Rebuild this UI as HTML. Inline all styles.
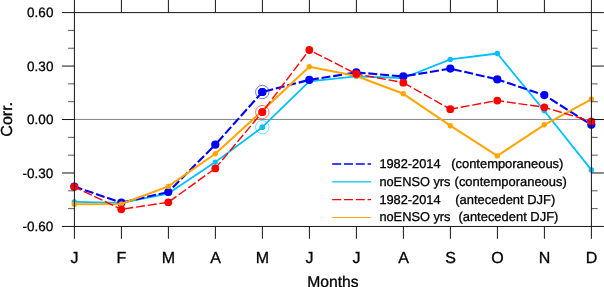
<!DOCTYPE html><html><head><meta charset="utf-8"><style>html,body{margin:0;padding:0;background:#fff}svg{display:block;will-change:transform}text{font-family:"Liberation Sans",sans-serif;fill:#000;stroke:#000;stroke-width:0.3px;text-rendering:geometricPrecision}</style></head><body>
<svg width="604" height="287" viewBox="0 0 604 287">
<rect width="604" height="287" fill="#fff"/>
<line x1="74.4" y1="119.45" x2="591.4" y2="119.45" stroke="#444" stroke-width="0.65"/>
<polyline points="74.3,201.9 121.3,202.8 168.3,193.5 215.3,162.1 262.3,127.2 309.3,81.3 356.3,76.3 403.3,78.0 450.3,59.4 497.3,53.5 544.3,110.8 591.3,169.9" fill="none" stroke="#00bfff" stroke-width="1.8" stroke-linejoin="round"/><circle cx="74.3" cy="201.9" r="2.7" fill="#00bfff"/><circle cx="121.3" cy="202.8" r="2.7" fill="#00bfff"/><circle cx="168.3" cy="193.5" r="2.7" fill="#00bfff"/><circle cx="215.3" cy="162.1" r="2.7" fill="#00bfff"/><circle cx="262.3" cy="127.2" r="2.7" fill="#00bfff"/><circle cx="309.3" cy="81.3" r="2.7" fill="#00bfff"/><circle cx="356.3" cy="76.3" r="2.7" fill="#00bfff"/><circle cx="403.3" cy="78.0" r="2.7" fill="#00bfff"/><circle cx="450.3" cy="59.4" r="2.7" fill="#00bfff"/><circle cx="497.3" cy="53.5" r="2.7" fill="#00bfff"/><circle cx="544.3" cy="110.8" r="2.7" fill="#00bfff"/><circle cx="591.3" cy="169.9" r="2.7" fill="#00bfff"/>
<path d="M74.30,186.50L82.22,189.23M84.87,190.14L93.38,193.08M96.02,193.99L104.53,196.92M107.18,197.83L115.69,200.77M118.34,201.68L121.30,202.70M121.30,202.70L121.42,202.67M124.15,202.05L132.92,200.05M135.65,199.43L144.43,197.43M147.16,196.81L155.93,194.82M158.67,194.19L167.44,192.20M168.30,192.00L170.86,189.42M172.83,187.44L179.18,181.05M181.15,179.07L187.50,172.68M189.47,170.70L195.81,164.31M197.79,162.32L204.13,155.94M206.10,153.95L212.45,147.57M214.42,145.58L215.30,144.70M215.30,144.70L215.46,144.52M217.32,142.43L223.31,135.71M225.18,133.62L231.17,126.91M233.03,124.82L239.02,118.10M240.89,116.01L246.88,109.29M248.74,107.20L254.73,100.49M256.59,98.40L262.30,92.00M264.40,91.46L273.12,89.22M275.83,88.52L284.54,86.27M287.26,85.58L295.97,83.33M298.68,82.63L307.40,80.39M309.88,79.81L318.76,78.39M321.53,77.95L330.42,76.53M333.18,76.09L342.07,74.67M344.84,74.23L353.72,72.81M356.58,72.42L365.55,73.19M368.34,73.42L377.31,74.19M380.09,74.43L389.06,75.19M391.85,75.43L400.82,76.19M403.30,76.40L403.99,76.29M406.75,75.83L415.63,74.35M418.39,73.90L427.27,72.42M430.03,71.96L438.91,70.49M441.67,70.03L450.30,68.60M452.76,69.17L461.54,71.18M464.26,71.81L473.04,73.82M475.76,74.45L484.54,76.47M487.26,77.09L496.04,79.11M497.30,79.40L504.38,81.77M507.04,82.65L515.57,85.50M518.23,86.39L526.76,89.24M529.42,90.13L537.96,92.98M540.61,93.87L544.30,95.10M544.30,95.10L547.64,97.21M550.01,98.71L557.62,103.51M559.98,105.01L567.59,109.82M569.96,111.31L577.57,116.12M579.93,117.62L587.54,122.43M589.91,123.92L591.30,124.80" fill="none" stroke="#0000ff" stroke-width="2.1"/><circle cx="74.3" cy="186.5" r="4.1" fill="#0000ff"/><circle cx="121.3" cy="202.7" r="4.1" fill="#0000ff"/><circle cx="168.3" cy="192.0" r="4.1" fill="#0000ff"/><circle cx="215.3" cy="144.7" r="4.1" fill="#0000ff"/><circle cx="262.3" cy="92.0" r="4.1" fill="#0000ff"/><circle cx="309.3" cy="79.9" r="4.1" fill="#0000ff"/><circle cx="356.3" cy="72.4" r="4.1" fill="#0000ff"/><circle cx="403.3" cy="76.4" r="4.1" fill="#0000ff"/><circle cx="450.3" cy="68.6" r="4.1" fill="#0000ff"/><circle cx="497.3" cy="79.4" r="4.1" fill="#0000ff"/><circle cx="544.3" cy="95.1" r="4.1" fill="#0000ff"/><circle cx="591.3" cy="124.8" r="4.1" fill="#0000ff"/>
<polyline points="74.3,204.3 121.3,204.0 168.3,186.4 215.3,153.7 262.3,110.8 309.3,66.7 356.3,76.0 403.3,93.8 450.3,125.7 497.3,155.9 544.3,124.8 591.3,99.3" fill="none" stroke="#ffa500" stroke-width="2.0" stroke-linejoin="round"/><circle cx="74.3" cy="204.3" r="2.7" fill="#ffa500"/><circle cx="121.3" cy="204.0" r="2.7" fill="#ffa500"/><circle cx="168.3" cy="186.4" r="2.7" fill="#ffa500"/><circle cx="215.3" cy="153.7" r="2.7" fill="#ffa500"/><circle cx="262.3" cy="110.8" r="2.7" fill="#ffa500"/><circle cx="309.3" cy="66.7" r="2.7" fill="#ffa500"/><circle cx="356.3" cy="76.0" r="2.7" fill="#ffa500"/><circle cx="403.3" cy="93.8" r="2.7" fill="#ffa500"/><circle cx="450.3" cy="125.7" r="2.7" fill="#ffa500"/><circle cx="497.3" cy="155.9" r="2.7" fill="#ffa500"/><circle cx="544.3" cy="124.8" r="2.7" fill="#ffa500"/><circle cx="591.3" cy="99.3" r="2.7" fill="#ffa500"/>
<path d="M74.30,186.80L81.09,190.05M83.62,191.26L91.74,195.15M94.26,196.36L102.38,200.24M104.91,201.45L113.02,205.34M115.55,206.55L121.30,209.30M121.30,209.30L121.57,209.26M124.34,208.85L133.24,207.52M136.01,207.11L144.92,205.78M147.68,205.37L156.59,204.04M159.36,203.63L168.26,202.31M169.22,201.63L176.52,196.37M178.79,194.73L186.09,189.47M188.37,187.83L195.66,182.56M197.94,180.92L205.23,175.66M207.51,174.02L214.81,168.76M215.30,168.40L220.52,162.15M222.31,160.00L228.08,153.09M229.87,150.94L235.64,144.03M237.44,141.88L243.20,134.98M245.00,132.83L250.76,125.92M252.56,123.77L258.33,116.86M260.12,114.71L262.30,112.10M262.30,112.10L263.31,110.76M265.00,108.53L270.43,101.35M272.12,99.12L277.56,91.94M279.24,89.71L284.68,82.53M286.37,80.30L291.80,73.13M293.49,70.89L298.92,63.72M300.61,61.48L306.04,54.31M307.73,52.08L309.30,50.00M309.30,50.00L311.32,51.03M313.81,52.29L321.83,56.37M324.33,57.64L332.35,61.72M334.85,62.99L342.87,67.07M345.37,68.34L353.39,72.42M355.88,73.69L356.30,73.90M356.30,73.90L362.62,75.08M365.37,75.59L374.22,77.24M376.98,77.75L385.82,79.40M388.58,79.91L397.42,81.56M400.18,82.07L403.30,82.65M403.40,82.70L411.23,87.13M413.67,88.51L421.51,92.94M423.94,94.31L431.78,98.74M434.22,100.12L442.06,104.54M444.49,105.92L450.30,109.20M450.30,109.20L457.92,107.81M460.67,107.30L469.52,105.68M472.28,105.18L481.13,103.56M483.88,103.05L492.74,101.43M495.49,100.93L497.30,100.60M497.30,100.60L504.03,101.56M506.80,101.95L515.71,103.22M518.49,103.62L527.40,104.89M530.17,105.29L539.08,106.56M541.85,106.95L544.30,107.30M544.30,107.30L550.35,109.10M553.03,109.90L561.66,112.47M564.34,113.27L572.97,115.84M575.65,116.64L584.28,119.21M586.96,120.01L591.30,121.30" fill="none" stroke="#ff0000" stroke-width="1.4"/><circle cx="74.3" cy="186.8" r="3.9" fill="#ff0000"/><circle cx="121.3" cy="209.3" r="3.9" fill="#ff0000"/><circle cx="168.3" cy="202.3" r="3.9" fill="#ff0000"/><circle cx="215.3" cy="168.4" r="3.9" fill="#ff0000"/><circle cx="262.3" cy="112.1" r="3.9" fill="#ff0000"/><circle cx="309.3" cy="50.0" r="3.9" fill="#ff0000"/><circle cx="356.3" cy="73.9" r="3.9" fill="#ff0000"/><circle cx="403.3" cy="82.7" r="3.9" fill="#ff0000"/><circle cx="450.3" cy="109.2" r="3.9" fill="#ff0000"/><circle cx="497.3" cy="100.6" r="3.9" fill="#ff0000"/><circle cx="544.3" cy="107.3" r="3.9" fill="#ff0000"/><circle cx="591.3" cy="121.3" r="3.9" fill="#ff0000"/>
<circle cx="262.3" cy="92.0" r="6.7" fill="none" stroke="#0000ff" stroke-width="0.55"/><circle cx="262.3" cy="92.0" r="4.1" fill="#0000ff"/>
<circle cx="262.3" cy="112.1" r="6.7" fill="none" stroke="#ff0000" stroke-width="0.55"/><circle cx="262.3" cy="112.1" r="3.9" fill="#ff0000"/>
<circle cx="262.3" cy="127.2" r="6.7" fill="none" stroke="#00bfff" stroke-width="0.55"/><circle cx="262.3" cy="127.2" r="2.7" fill="#00bfff"/>
<line x1="332.2" y1="163.9" x2="371.1" y2="163.9" stroke="#0000ff" stroke-width="1.5" stroke-dasharray="9 2.8"/>
<line x1="332.2" y1="181.9" x2="371.1" y2="181.9" stroke="#00bfff" stroke-width="1.4"/>
<line x1="332.2" y1="199.7" x2="371.1" y2="199.7" stroke="#ff0000" stroke-width="1.3" stroke-dasharray="9 2.8"/>
<line x1="332.2" y1="217.5" x2="371.1" y2="217.5" stroke="#ffa500" stroke-width="1.0"/>
<text x="379.4" y="168.0" font-size="12.8">1982-2014</text><text x="451.2" y="168.0" font-size="12.95">(contemporaneous)</text>
<text x="379.4" y="185.8" font-size="12.8">noENSO yrs</text><text x="454.6" y="185.8" font-size="12.95">(contemporaneous)</text>
<text x="379.4" y="203.6" font-size="12.8">1982-2014</text><text x="455.3" y="203.6" font-size="12.95">(antecedent DJF)</text>
<text x="379.4" y="221.4" font-size="12.8">noENSO yrs</text><text x="458.4" y="221.4" font-size="12.95">(antecedent DJF)</text>
<rect x="74.4" y="12.6" width="517.0" height="213.85" fill="none" stroke="#151515" stroke-width="1.0"/>
<line x1="74.40" y1="0" x2="74.40" y2="12.6" stroke="#151515" stroke-width="1.0"/><line x1="74.40" y1="226.45" x2="74.40" y2="238.8" stroke="#151515" stroke-width="1.0"/>
<line x1="121.40" y1="0" x2="121.40" y2="12.6" stroke="#151515" stroke-width="1.0"/><line x1="121.40" y1="226.45" x2="121.40" y2="238.8" stroke="#151515" stroke-width="1.0"/>
<line x1="168.40" y1="0" x2="168.40" y2="12.6" stroke="#151515" stroke-width="1.0"/><line x1="168.40" y1="226.45" x2="168.40" y2="238.8" stroke="#151515" stroke-width="1.0"/>
<line x1="215.40" y1="0" x2="215.40" y2="12.6" stroke="#151515" stroke-width="1.0"/><line x1="215.40" y1="226.45" x2="215.40" y2="238.8" stroke="#151515" stroke-width="1.0"/>
<line x1="262.40" y1="0" x2="262.40" y2="12.6" stroke="#151515" stroke-width="1.0"/><line x1="262.40" y1="226.45" x2="262.40" y2="238.8" stroke="#151515" stroke-width="1.0"/>
<line x1="309.40" y1="0" x2="309.40" y2="12.6" stroke="#151515" stroke-width="1.0"/><line x1="309.40" y1="226.45" x2="309.40" y2="238.8" stroke="#151515" stroke-width="1.0"/>
<line x1="356.40" y1="0" x2="356.40" y2="12.6" stroke="#151515" stroke-width="1.0"/><line x1="356.40" y1="226.45" x2="356.40" y2="238.8" stroke="#151515" stroke-width="1.0"/>
<line x1="403.40" y1="0" x2="403.40" y2="12.6" stroke="#151515" stroke-width="1.0"/><line x1="403.40" y1="226.45" x2="403.40" y2="238.8" stroke="#151515" stroke-width="1.0"/>
<line x1="450.40" y1="0" x2="450.40" y2="12.6" stroke="#151515" stroke-width="1.0"/><line x1="450.40" y1="226.45" x2="450.40" y2="238.8" stroke="#151515" stroke-width="1.0"/>
<line x1="497.40" y1="0" x2="497.40" y2="12.6" stroke="#151515" stroke-width="1.0"/><line x1="497.40" y1="226.45" x2="497.40" y2="238.8" stroke="#151515" stroke-width="1.0"/>
<line x1="544.40" y1="0" x2="544.40" y2="12.6" stroke="#151515" stroke-width="1.0"/><line x1="544.40" y1="226.45" x2="544.40" y2="238.8" stroke="#151515" stroke-width="1.0"/>
<line x1="591.40" y1="0" x2="591.40" y2="12.6" stroke="#151515" stroke-width="1.0"/><line x1="591.40" y1="226.45" x2="591.40" y2="238.8" stroke="#151515" stroke-width="1.0"/>
<line x1="61.900000000000006" y1="12.60" x2="74.4" y2="12.60" stroke="#151515" stroke-width="1.0"/><line x1="591.4" y1="12.60" x2="603.9" y2="12.60" stroke="#151515" stroke-width="1.0"/>
<line x1="68.10000000000001" y1="30.42" x2="74.4" y2="30.42" stroke="#111" stroke-width="0.7"/><line x1="591.4" y1="30.42" x2="597.6999999999999" y2="30.42" stroke="#111" stroke-width="0.7"/>
<line x1="68.10000000000001" y1="48.24" x2="74.4" y2="48.24" stroke="#111" stroke-width="0.7"/><line x1="591.4" y1="48.24" x2="597.6999999999999" y2="48.24" stroke="#111" stroke-width="0.7"/>
<line x1="61.900000000000006" y1="66.06" x2="74.4" y2="66.06" stroke="#151515" stroke-width="1.0"/><line x1="591.4" y1="66.06" x2="603.9" y2="66.06" stroke="#151515" stroke-width="1.0"/>
<line x1="68.10000000000001" y1="83.88" x2="74.4" y2="83.88" stroke="#111" stroke-width="0.7"/><line x1="591.4" y1="83.88" x2="597.6999999999999" y2="83.88" stroke="#111" stroke-width="0.7"/>
<line x1="68.10000000000001" y1="101.70" x2="74.4" y2="101.70" stroke="#111" stroke-width="0.7"/><line x1="591.4" y1="101.70" x2="597.6999999999999" y2="101.70" stroke="#111" stroke-width="0.7"/>
<line x1="61.900000000000006" y1="119.52" x2="74.4" y2="119.52" stroke="#151515" stroke-width="1.0"/><line x1="591.4" y1="119.52" x2="603.9" y2="119.52" stroke="#151515" stroke-width="1.0"/>
<line x1="68.10000000000001" y1="137.35" x2="74.4" y2="137.35" stroke="#111" stroke-width="0.7"/><line x1="591.4" y1="137.35" x2="597.6999999999999" y2="137.35" stroke="#111" stroke-width="0.7"/>
<line x1="68.10000000000001" y1="155.17" x2="74.4" y2="155.17" stroke="#111" stroke-width="0.7"/><line x1="591.4" y1="155.17" x2="597.6999999999999" y2="155.17" stroke="#111" stroke-width="0.7"/>
<line x1="61.900000000000006" y1="172.99" x2="74.4" y2="172.99" stroke="#151515" stroke-width="1.0"/><line x1="591.4" y1="172.99" x2="603.9" y2="172.99" stroke="#151515" stroke-width="1.0"/>
<line x1="68.10000000000001" y1="190.81" x2="74.4" y2="190.81" stroke="#111" stroke-width="0.7"/><line x1="591.4" y1="190.81" x2="597.6999999999999" y2="190.81" stroke="#111" stroke-width="0.7"/>
<line x1="68.10000000000001" y1="208.63" x2="74.4" y2="208.63" stroke="#111" stroke-width="0.7"/><line x1="591.4" y1="208.63" x2="597.6999999999999" y2="208.63" stroke="#111" stroke-width="0.7"/>
<line x1="61.900000000000006" y1="226.45" x2="74.4" y2="226.45" stroke="#151515" stroke-width="1.0"/><line x1="591.4" y1="226.45" x2="603.9" y2="226.45" stroke="#151515" stroke-width="1.0"/>
<text x="53.4" y="17.3" font-size="13.5" text-anchor="end">0.60</text>
<text x="53.4" y="70.8" font-size="13.5" text-anchor="end">0.30</text>
<text x="53.4" y="124.3" font-size="13.5" text-anchor="end">0.00</text>
<text x="53.4" y="177.8" font-size="13.5" text-anchor="end">-0.30</text>
<text x="53.4" y="231.3" font-size="13.5" text-anchor="end">-0.60</text>
<text x="74.5" y="262.5" font-size="16" text-anchor="middle">J</text>
<text x="121.5" y="262.5" font-size="16" text-anchor="middle">F</text>
<text x="168.5" y="262.5" font-size="16" text-anchor="middle">M</text>
<text x="215.5" y="262.5" font-size="16" text-anchor="middle">A</text>
<text x="262.5" y="262.5" font-size="16" text-anchor="middle">M</text>
<text x="309.5" y="262.5" font-size="16" text-anchor="middle">J</text>
<text x="356.5" y="262.5" font-size="16" text-anchor="middle">J</text>
<text x="403.5" y="262.5" font-size="16" text-anchor="middle">A</text>
<text x="450.5" y="262.5" font-size="16" text-anchor="middle">S</text>
<text x="497.5" y="262.5" font-size="16" text-anchor="middle">O</text>
<text x="544.5" y="262.5" font-size="16" text-anchor="middle">N</text>
<text x="591.5" y="262.5" font-size="16" text-anchor="middle">D</text>
<text x="332.9" y="286.5" font-size="15.7" text-anchor="middle">Months</text>
<text transform="translate(12,119.3) rotate(-90)" font-size="16" text-anchor="middle">Corr.</text>
</svg></body></html>
